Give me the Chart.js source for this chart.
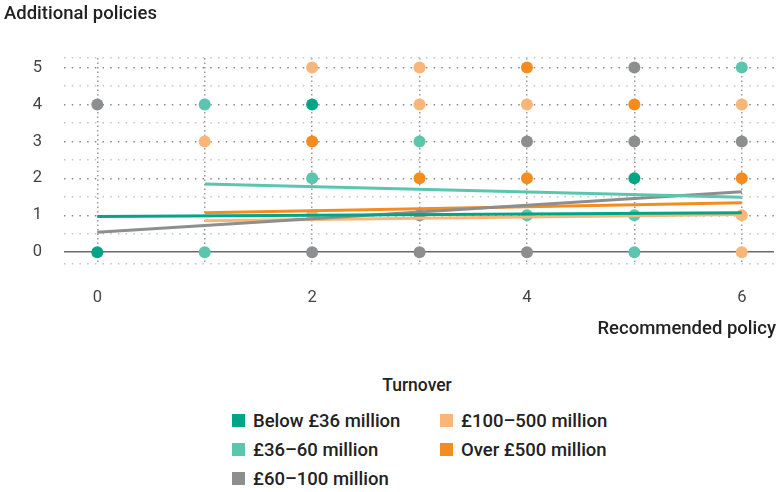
<!DOCTYPE html>
<html>
<head>
<meta charset="utf-8">
<script src="https://cdn.jsdelivr.net/npm/chart.js@4.4.1/dist/chart.umd.min.js"></script>
<style>
  body { margin: 0; background: #fff; font-family: Roboto, sans-serif; color: #222; }
  #wrap { position: relative; width: 780px; height: 492px; }
  #box { position: absolute; left: 0; top: 0; width: 780px; height: 320px; }
  .lbl { position: absolute; font-size: 18.5px; font-weight: 500; line-height: 1; white-space: nowrap; }
  #ytitle { left: 4px; top: 4.4px; }
  #xtitle { right: 4px; top: 319.4px; }
  #ltitle { left: 317px; width: 200px; text-align: center; top: 377.3px; font-size: 17.5px; }
  .legend { position: absolute; left: 232px; top: 412px; margin: 0; padding: 0; display: grid;
            grid-template-rows: repeat(3, 29px); grid-auto-flow: column; grid-template-columns: 208px 200px; }
  .legend li { list-style: none; display: flex; align-items: flex-start; font-size: 18.5px; font-weight: 500; line-height: 1; white-space: nowrap; }
  .legend li span { display: inline-block; width: 13px; height: 13px; margin: 2px 8px 0 0; flex: none; }
</style>
</head>
<body>
<div id="wrap">
  <div id="box"><canvas class="my-chart"></canvas></div>
  <div class="lbl" id="ytitle">Additional policies</div>
  <div class="lbl" id="xtitle">Recommended policy</div>
  <div class="lbl" id="ltitle">Turnover</div>
  <ul class="legend"></ul>
</div>
<script>
const seriesNames = ["Below £36 million", "£36–60 million", "£60–100 million", "£100–500 million", "Over £500 million"]
const seriesColors = ["#00a587", "#5cc5ae", "#8d8e90", "#f9b678", "#f48c1f"]

// scatter points [recommended, additional]
const below36 = [[0, 0], [2, 4], [5, 2]]
const from36to60 = [[1, 4], [1, 0], [2, 2], [3, 3], [4, 1], [5, 1], [5, 0], [6, 5]]
const from60to100 = [[0, 4], [2, 0], [3, 1], [3, 0], [4, 3], [4, 0], [5, 5], [5, 3], [6, 3]]
const from100to500 = [[1, 3], [2, 5], [2, 1], [3, 5], [3, 4], [4, 4], [6, 4], [6, 1], [6, 0]]
const over500 = [[2, 3], [3, 2], [4, 5], [4, 2], [5, 4], [6, 2]]

// fitted trend lines: start and end points
const trendBelow36 = [[0, 0.97], [6, 1.07]]
const trend36to60 = [[1, 1.85], [6, 1.49]]
const trend60to100 = [[0, 0.54], [6, 1.64]]
const trend100to500 = [[1, 0.85], [6, 1.02]]
const trendOver500 = [[1, 1.07], [6, 1.34]]

const xTicks = [0, 2, 4, 6]
const yTicks = [0, 1, 2, 3, 4, 5]

const points = [below36, from36to60, from60to100, from100to500, over500]
const trends = [trendBelow36, trend36to60, trend60to100, trend100to500, trendOver500]

const toXY = arr => arr.map(p => ({x: p[0], y: p[1]}))

const datasets = []
trends.forEach((t, i) => {
    datasets.push({
        type: "line",
        label: seriesNames[i] + " trend",
        data: toXY(t),
        borderColor: seriesColors[i],
        borderWidth: 3,
        pointRadius: 0,
        fill: false,
        order: 0,
    })
})
points.forEach((p, i) => {
    datasets.push({
        label: seriesNames[i],
        data: toXY(p),
        backgroundColor: seriesColors[i],
        borderWidth: 0,
        pointRadius: 6,
        pointHoverRadius: 6,
        order: 1,
    })
})

const yMin = -0.32, yMax = 5.26
const xMin = -0.31, xMax = 6.3
const fontTicks = {family: "Roboto", size: 16.5}

const myChart = document.querySelector(".my-chart").getContext('2d')

new Chart(myChart, {
    type: "scatter",
    data: {datasets},
    options: {
        responsive: true,
        maintainAspectRatio: false,
        animation: false,
        layout: {padding: {top: 58, right: 3, left: 0, bottom: 0}},
        plugins: {legend: {display: false}, tooltip: {enabled: false}},
        scales: {
            x: {
                min: xMin, max: xMax,
                afterBuildTicks: s => { s.ticks = [0, 1, 2, 3, 4, 5, 6].map(v => ({value: v})) },
                afterFit: s => { s.height = 56 },
                ticks: {
                    autoSkip: false, padding: 24, color: "#444", font: fontTicks,
                    callback: v => xTicks.includes(v) ? String(v) : "",
                },
                grid: {color: "#9a9a9a", lineWidth: 1.5, drawTicks: false},
                border: {display: false, dash: [1.5, 3]},
            },
            y: {
                min: yMin, max: yMax,
                afterBuildTicks: s => {
                    const v = [yMin]
                    for (let k = 0; k <= 10; k++) v.push(k / 2)
                    v.push(yMax)
                    s.ticks = v.map(x => ({value: x}))
                },
                afterFit: s => { s.width = 64 },
                ticks: {
                    autoSkip: false, padding: 22, color: "#444", font: fontTicks,
                    callback: v => yTicks.includes(v) ? String(v) : "",
                },
                grid: {
                    drawTicks: false,
                    lineWidth: 1.5,
                    color: c => c.tick.value === 0 ? "#6b6b6b" : (Number.isInteger(c.tick.value) ? "#8a8a8a" : "#c2c2c2"),
                },
                border: {display: false, dash: c => c.tick && c.tick.value === 0 ? [] : [1.5, 6.2]},
            },
        },
    },
})

const ul = document.querySelector(".legend")
seriesNames.forEach((l, i) => {
    let li = document.createElement("li")
    li.innerHTML = `<span style="background:${seriesColors[i]}"></span>${l}`
    ul.appendChild(li)
})
</script>
</body>
</html>
